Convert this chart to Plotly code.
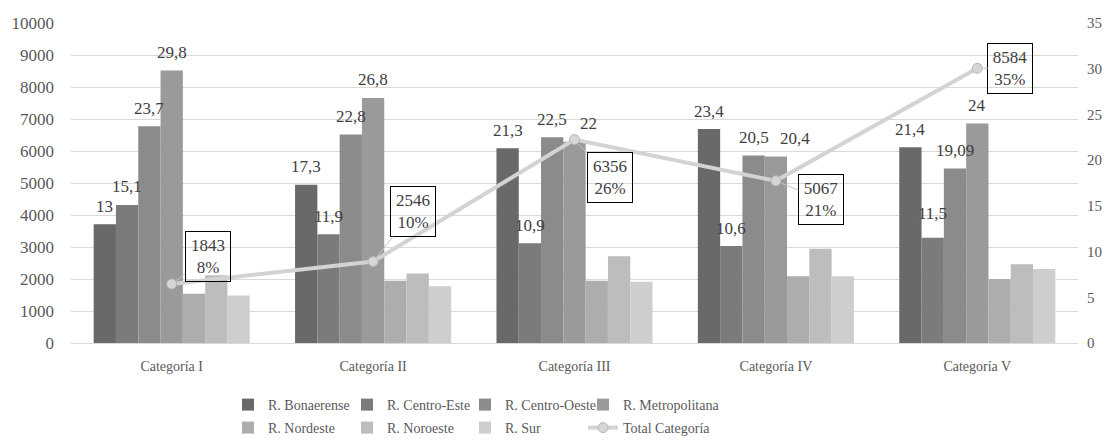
import plotly.graph_objects as go

# Categories and regional shares (%) per category
categories = ["Categoría I", "Categoría II", "Categoría III", "Categoría IV", "Categoría V"]

bonaerense = [13, 17.3, 21.3, 23.4, 21.4]
centro_este = [15.1, 11.9, 10.9, 10.6, 11.5]
centro_oeste = [23.7, 22.8, 22.5, 20.5, 19.09]
metropolitana = [29.8, 26.8, 22, 20.4, 24]
nordeste = [5.4, 6.8, 6.8, 7.3, 7.0]
noroeste = [7.4, 7.6, 9.5, 10.3, 8.6]
sur = [5.2, 6.2, 6.7, 7.3, 8.1]

# Totals per category and their share of the grand total
total_categoria = [1843, 2546, 6356, 5067, 8584]
total_pct = ["8%", "10%", "26%", "21%", "35%"]

FONT = "Liberation Serif, Times New Roman, DejaVu Serif, serif"
TEXT = "#404040"
TICK = "#595959"

W, H = 1115, 444
ML, MR, MT, MB = 71, 37, 23, 101
BARGAP = 0.225


def fmt(v):
    return f"{v:g}".replace(".", ",")


# name, values, colour, show value labels
series = [
    ("R. Bonaerense", bonaerense, "#696969", True),
    ("R. Centro-Este", centro_este, "#7b7b7b", True),
    ("R. Centro-Oeste", centro_oeste, "#8b8b8b", True),
    ("R. Metropolitana", metropolitana, "#9a9a9a", True),
    ("R. Nordeste", nordeste, "#adadad", False),
    ("R. Noroeste", noroeste, "#bdbdbd", False),
    ("R. Sur", sur, "#cecece", False),
]

# One legend box per entry, laid out on a 4 x 2 grid under the axis
legend_ids = ["legend"] + [f"legend{i}" for i in range(2, 9)]

fig = go.Figure()

for i, (name, vals, color, labelled) in enumerate(series):
    fig.add_trace(go.Bar(
        x=categories,
        y=vals,
        name=name,
        marker=dict(color=color, line=dict(width=0)),
        yaxis="y",
        legend=legend_ids[i],
    ))

fig.add_trace(go.Scatter(
    x=categories,
    y=total_categoria,
    name="Total Categoría",
    mode="lines+markers",
    line=dict(color="#d3d3d3", width=4),
    marker=dict(size=10, color="#d6d6d6", line=dict(color="#b5b5b5", width=1)),
    yaxis="y2",
    legend=legend_ids[7],
))

# Value labels above the first four series of each group
n_series = len(series)
plot_w = W - ML - MR
cat_px = plot_w / len(categories)
bar_px = cat_px * (1 - BARGAP) / n_series
nudge = {(2, 3): 14, (3, 3): 19}  # keep neighbouring labels apart
for si, (name, vals, color, labelled) in enumerate(series):
    if not labelled:
        continue
    for ci, (cat, v) in enumerate(zip(categories, vals)):
        fig.add_annotation(
            x=cat, y=v, xref="x", yref="y",
            text=fmt(v), showarrow=False,
            xshift=(si - (n_series - 1) / 2) * bar_px + nudge.get((ci, si), 0),
            yshift=24 if (ci == 4 and si == 1) else 18,
            font=dict(family=FONT, size=17, color=TEXT),
        )

# Boxed labels for the total line
offsets = [(36, -28), (40, -50), (35, 38), (45, 19), (33, 0)]
for cat, tot, pct, (ax, ay) in zip(categories, total_categoria, total_pct, offsets):
    fig.add_annotation(
        x=cat, y=tot, xref="x", yref="y2",
        text=f"{tot}<br>{pct}",
        showarrow=True, arrowhead=0, arrowwidth=1, arrowcolor="#c4c4c4",
        standoff=6, ax=ax, ay=ay,
        font=dict(family=FONT, size=17, color=TEXT),
        bordercolor="#000000", borderwidth=1, borderpad=1,
        width=42, height=47,
        bgcolor="rgba(0,0,0,0)",
    )

legend_col_px = [228, 347, 465, 583]
legend_row_px = [405, 428]
legend_layout = {}
for k, lid in enumerate(legend_ids):
    col, row = k % 4, k // 4
    legend_layout[lid] = dict(
        orientation="v",
        xref="paper", yref="container",
        xanchor="left", yanchor="middle",
        x=(legend_col_px[col] - ML) / plot_w,
        y=1 - legend_row_px[row] / H,
        font=dict(family=FONT, size=14, color=TICK),
        bgcolor="rgba(0,0,0,0)",
        itemclick=False, itemdoubleclick=False,
    )

fig.update_layout(
    width=W, height=H,
    margin=dict(l=ML, r=MR, t=MT, b=MB),
    paper_bgcolor="white", plot_bgcolor="white",
    font=dict(family=FONT, color=TICK),
    barmode="group", bargap=BARGAP, bargroupgap=0,
    showlegend=True,
    xaxis=dict(
        showgrid=False, showline=True, linecolor="#d9d9d9", linewidth=1,
        ticks="", tickfont=dict(family=FONT, size=14, color=TICK),
        ticklabelstandoff=10,
    ),
    yaxis=dict(
        side="right", range=[0, 35], dtick=5, showgrid=False, zeroline=False,
        ticks="", tickfont=dict(family=FONT, size=15, color=TICK),
        ticklabelstandoff=8,
    ),
    yaxis2=dict(
        overlaying="y", side="left", range=[0, 10000], dtick=1000,
        tickformat="d", showgrid=True, gridcolor="#d9d9d9", gridwidth=1,
        zeroline=False, ticks="",
        tickfont=dict(family=FONT, size=17, color=TICK),
        ticklabelstandoff=16,
    ),
    **legend_layout,
)

fig.write_html("out.html")
